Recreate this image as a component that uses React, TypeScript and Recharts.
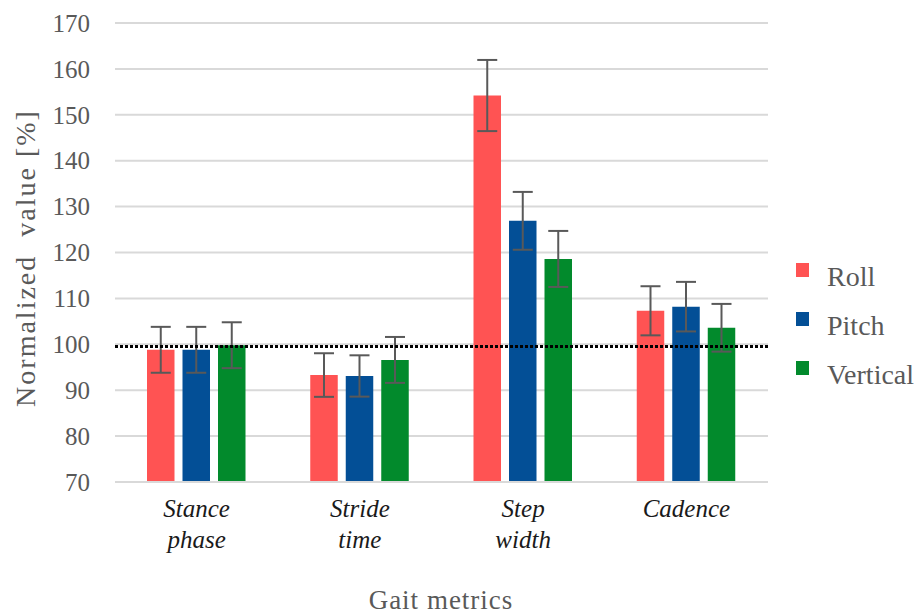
import React from "react";
import {
  BarChart,
  Bar,
  XAxis,
  YAxis,
  CartesianGrid,
  ReferenceLine,
  ErrorBar,
  Legend,
} from "recharts";

const categories = ["Stance phase", "Stride time", "Step width", "Cadence"];
const roll = [98.8, 93.3, 154.2, 107.3];
const rollErr = [5, 4.75, 7.75, 5.35];
const pitch = [98.8, 93.1, 126.9, 108.2];
const pitchErr = [5, 4.5, 6.3, 5.4];
const vertical = [99.8, 96.6, 118.6, 103.6];
const verticalErr = [5, 5, 6.1, 5.2];
const yTicks = [70, 80, 90, 100, 110, 120, 130, 140, 150, 160, 170];
const referenceValue = 99.5;

const seriesNames = ["Roll", "Pitch", "Vertical"];
const seriesKeys = ["roll", "pitch", "vertical"];
const seriesColors = ["#FF5353", "#034F96", "#028A2C"];

const data = categories.map((name, i) => ({
  name,
  roll: roll[i],
  rollErr: rollErr[i],
  pitch: pitch[i],
  pitchErr: pitchErr[i],
  vertical: vertical[i],
  verticalErr: verticalErr[i],
}));

const FONT = "Liberation Serif";
const GRAY = "#595959";

const XTick = (props: any) => {
  const { x, y, payload } = props;
  const lines = String(payload.value).split(" ");
  return (
    <text
      x={x}
      y={y}
      textAnchor="middle"
      fontFamily={FONT}
      fontStyle="italic"
      fontSize={25}
      fill="#1a1a1a"
    >
      {lines.map((l, i) => (
        <tspan key={i} x={x} y={y + 35 + i * 31}>
          {l}
        </tspan>
      ))}
    </text>
  );
};

const YTick = (props: any) => {
  const { x, y, payload } = props;
  return (
    <text
      x={x}
      y={y}
      dy="0.35em"
      textAnchor="end"
      fontFamily={FONT}
      fontSize={25}
      fill={GRAY}
    >
      {payload.value}
    </text>
  );
};

const YLabel = () => (
  <text
    x={25}
    y={258}
    transform="rotate(-90, 25, 258)"
    textAnchor="middle"
    dominantBaseline="central"
    fontFamily={FONT}
    fontSize={28}
    letterSpacing={2}
    fill={GRAY}
    style={{ whiteSpace: "pre" }}
  >
    {"Normalized  value [%]"}
  </text>
);

const XLabel = () => (
  <text
    x={441}
    y={609}
    textAnchor="middle"
    fontFamily={FONT}
    fontSize={27}
    letterSpacing={1}
    fill={GRAY}
  >
    Gait metrics
  </text>
);

const LegendContent = () => (
  <svg width={125} height={160}>
    {seriesNames.map((n, i) => (
      <g key={n}>
        <rect x={0} y={13 + i * 49} width={13} height={14} fill={seriesColors[i]} />
        <text x={31} y={36 + i * 49} fontFamily={FONT} fontSize={28} fill={GRAY}>
          {n}
        </text>
      </g>
    ))}
  </svg>
);

export default function App() {
  return (
    <div style={{ position: "absolute", left: 0, top: 0, background: "#fff" }}>
      <BarChart
        width={921}
        height={614}
        data={data}
        margin={{ top: 23, right: 153, left: 0, bottom: 0 }}
        barGap={8}
        barSize={27.5}
      >
        <CartesianGrid vertical={false} stroke="#d9d9d9" strokeWidth={2} />
        <XAxis
          dataKey="name"
          height={132}
          tickLine={false}
          tickSize={0}
          tickMargin={0}
          axisLine={{ stroke: "#d9d9d9", strokeWidth: 2 }}
          tick={<XTick />}
          interval={0}
          label={<XLabel />}
        />
        <YAxis
          width={115}
          domain={[70, 170]}
          ticks={yTicks}
          type="number"
          axisLine={false}
          tickLine={false}
          tickSize={0}
          tickMargin={25}
          tick={<YTick />}
          label={<YLabel />}
        />
        <Legend
          layout="vertical"
          align="center"
          verticalAlign="middle"
          content={<LegendContent />}
          wrapperStyle={{ left: 796, top: 250, width: 125, height: 160 }}
        />
        {seriesKeys.map((k, i) => (
          <Bar
            key={k}
            dataKey={k}
            name={seriesNames[i]}
            fill={seriesColors[i]}
            isAnimationActive={false}
          >
            <ErrorBar
              dataKey={k + "Err"}
              width={10}
              stroke="#595959"
              strokeWidth={2}
              direction="y"
            />
          </Bar>
        ))}
        <ReferenceLine
          y={referenceValue}
          stroke="#000"
          strokeWidth={3}
          strokeDasharray="3 2"
        />
      </BarChart>
    </div>
  );
}
